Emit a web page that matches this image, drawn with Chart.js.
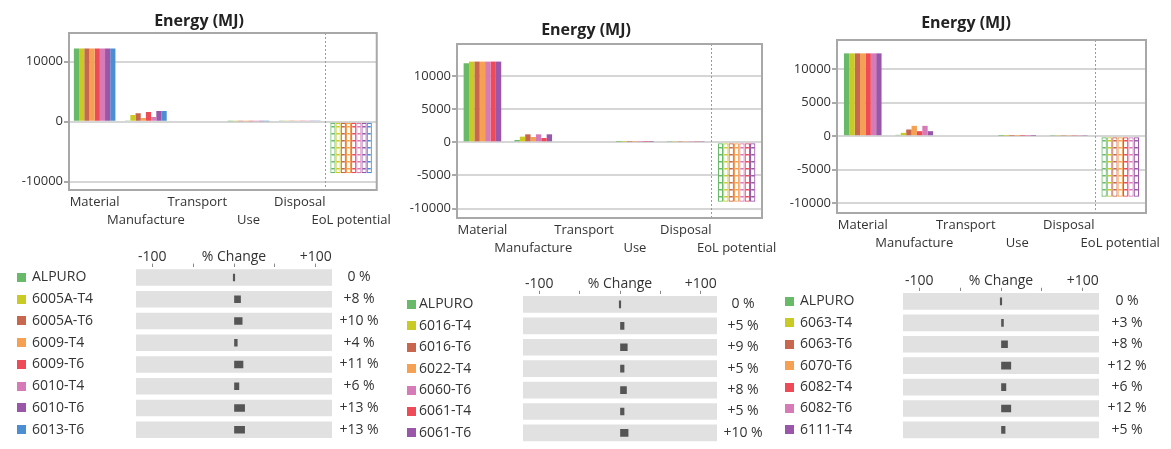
<!DOCTYPE html>
<html><head><meta charset="utf-8">
<script src="https://cdn.jsdelivr.net/npm/chart.js@4.4.1/dist/chart.umd.min.js"></script>
<style>
html,body{margin:0;padding:0;overflow:hidden;background:#fff;width:1171px;height:449px;}
.c{position:absolute;}
</style></head>
<body>
<div class="c" style="left:0px;top:0px;width:395px;height:235px"><canvas id="e1"></canvas></div>
<div class="c" style="left:395px;top:0px;width:390px;height:262px"><canvas id="e2"></canvas></div>
<div class="c" style="left:780px;top:0px;width:391px;height:256px"><canvas id="e3"></canvas></div>
<div class="c" style="left:0px;top:235px;width:395px;height:214px"><canvas id="p1"></canvas></div>
<div class="c" style="left:395px;top:262px;width:390px;height:190px"><canvas id="p2"></canvas></div>
<div class="c" style="left:780px;top:259px;width:391px;height:190px"><canvas id="p3"></canvas></div>
<script>
// ---------- DATA ----------
const categories = ['Material','Manufacture','Transport','Use','Disposal','EoL potential'];
const hatchedCategory = 'EoL potential';

// y-axis tick values
const energyTicks1 = [-10000, 0, 10000];
const energyTicks23 = [-10000, -5000, 0, 5000, 10000];

// Panel 1
const series1 = ['ALPURO','6005A-T4','6005A-T6','6009-T4','6009-T6','6010-T4','6010-T6','6013-T6'];
const material1    = [12200,12200,12200,12200,12200,12200,12200,12200];
const manufacture1 = [200,1100,1400,600,1600,800,1800,1800];
const transport1   = [150,150,150,150,150,150,150,150];
const use1         = [60,60,60,60,60,60,60,60];
const disposal1    = [100,100,100,100,100,100,100,100];
const eol1         = [-8600,-8600,-8600,-8600,-8600,-8600,-8600,-8600];
const change1      = [0,8,10,4,11,6,13,13];

// Panel 2
const series2 = ['ALPURO','6016-T4','6016-T6','6022-T4','6060-T6','6061-T4','6061-T6'];
const material2    = [11900,12150,12150,12150,12150,12150,12150];
const manufacture2 = [350,850,1200,800,1200,650,1200];
const transport2   = [150,150,150,150,150,150,150];
const use2         = [60,60,60,60,60,60,60];
const disposal2    = [100,100,100,100,100,100,100];
const eol2         = [-8950,-8950,-8950,-8950,-8950,-8950,-8950];
const change2      = [0,5,9,5,8,5,10];

// Panel 3
const series3 = ['ALPURO','6063-T4','6063-T6','6070-T6','6082-T4','6082-T6','6111-T4'];
const material3    = [12400,12400,12400,12400,12400,12400,12400];
const manufacture3 = [200,500,1000,1550,750,1550,750];
const transport3   = [150,150,150,150,150,150,150];
const use3         = [60,60,60,60,60,60,60];
const disposal3    = [100,100,100,100,100,100,100];
const eol3         = [-9050,-9050,-9050,-9050,-9050,-9050,-9050];
const change3      = [0,3,8,12,6,12,5];

// percent-change axis ticks
const pctTicks = [-100,-50,0,50,100];
const pctTrack = [-120,120];

// ---------- STYLES ----------
const GREEN='#68b968', YEL='#c9cb24', BROWN='#c8664e', ORANGE='#f5a052', RED='#ee4a57', PINK='#d77ab8', PURPLE='#9a56a8', BLUE='#4b8fd2';
const colors1 = [GREEN,YEL,BROWN,ORANGE,RED,PINK,PURPLE,BLUE];
const colors2 = [GREEN,YEL,BROWN,ORANGE,PINK,RED,PURPLE];
const colors3 = [GREEN,YEL,BROWN,ORANGE,RED,PINK,PURPLE];

Chart.defaults.font.family = "'Open Sans', 'Noto Sans', sans-serif";
Chart.defaults.color = '#333';
Chart.defaults.animation = false;

function hatch(color){
  const c = document.createElement('canvas'); c.width = 4; c.height = 7;
  const g = c.getContext('2d');
  g.fillStyle = '#fff'; g.fillRect(0,0,4,7);
  g.fillStyle = color; g.fillRect(0,0,4,1.5);
  return g.createPattern(c,'repeat');
}

const energyDecor = {
  id:'energyDecor',
  afterDraw(chart, args, o){
    const ctx = chart.ctx, a = chart.chartArea, x = chart.scales.x;
    ctx.save();
    const k = categories.indexOf(hatchedCategory);
    const sx = Math.round((x.getPixelForValue(k-1) + x.getPixelForValue(k))/2) + 0.5;
    ctx.strokeStyle = '#9a9a9a'; ctx.lineWidth = 1; ctx.setLineDash([2,2]);
    ctx.beginPath(); ctx.moveTo(sx, a.top); ctx.lineTo(sx, a.bottom); ctx.stroke();
    ctx.setLineDash([]);
    ctx.strokeStyle = '#a8a8a8'; ctx.lineWidth = 2;
    ctx.strokeRect(a.left, a.top, a.right - a.left, a.bottom - a.top);
    ctx.fillStyle = '#222'; ctx.font = "bold 16px 'Open Sans', sans-serif";
    ctx.textAlign = 'center'; ctx.textBaseline = 'middle';
    ctx.fillText(o.title, o.tx, o.ty);
    ctx.restore();
  }
};

function makeEnergy(id, series, colors, cols, yTicks, L){
  const datasets = series.map((name,i)=>({
    label: name,
    data: cols.map(col=>col[i]),
    backgroundColor: categories.map(c=> c===hatchedCategory ? hatch(colors[i]) : colors[i]),
    borderColor: colors[i],
    borderWidth: categories.map(c=> c===hatchedCategory ? 1.2 : 0),
    borderSkipped: false
  }));
  new Chart(document.getElementById(id), {
    type:'bar',
    data:{labels: categories, datasets},
    options:{
      responsive:true, maintainAspectRatio:false,
      layout:{padding:{left:0, right:L.W - L.R, top:L.T, bottom:0}},
      datasets:{bar:{categoryPercentage:L.cp, barPercentage:1}},
      plugins:{legend:{display:false}, tooltip:{enabled:false},
        energyDecor:{title:'Energy (MJ)', tx:L.tx, ty:L.ty}},
      scales:{
        x:{
          ticks:{autoSkip:false, maxRotation:0, minRotation:0, padding:3, color:'#333',
            font:{size:13, lineHeight:1.385},
            callback:(v,i)=> i%2 ? ['', categories[i]] : categories[i]},
          grid:{display:false, drawTicks:false}, border:{display:false},
          afterFit:s=>{ s.height = L.H - L.B; }
        },
        y:{
          min:L.min, max:L.max,
          afterBuildTicks:s=>{ s.ticks = yTicks.map(v=>({value:v})); },
          ticks:{padding:1, color:'#333', font:{size:13}, callback:v=>String(v)},
          grid:{color:'#d6d6d6', lineWidth:2, tickColor:'#555', tickLength:5, tickWidth:1},
          border:{display:false},
          afterFit:s=>{ s.width = L.L; }
        }
      }
    },
    plugins:[energyDecor]
  });
}

const pctDecor = {
  id:'pctDecor',
  afterDraw(chart, args, o){
    const ctx = chart.ctx, y = chart.scales.y;
    ctx.save();
    o.colors.forEach((c,i)=>{
      const py = y.getPixelForValue(i);
      ctx.fillStyle = c; ctx.fillRect(o.sqX, Math.round(py-4.5), 9, 9);
    });
    ctx.fillStyle = '#333'; ctx.font = "14px 'Open Sans', sans-serif";
    ctx.textAlign = 'center'; ctx.textBaseline = 'middle';
    o.values.forEach((v,i)=>{
      ctx.fillText((v>0?'+':'') + v + ' %', o.valX, y.getPixelForValue(i));
    });
    ctx.restore();
  }
};

function makePct(id, series, colors, changes, L){
  new Chart(document.getElementById(id), {
    type:'bar',
    data:{labels: series, datasets:[
      {data: series.map(()=>pctTrack.slice()), backgroundColor:'#e1e1e1', barThickness:16, grouped:false, order:2},
      {data: changes.map(v=>[0,v]), backgroundColor:'#555', barThickness:7, minBarLength:1.5, grouped:false, order:1}
    ]},
    options:{
      indexAxis:'y', responsive:true, maintainAspectRatio:false,
      layout:{padding:{left:L.left, right:L.W - L.R, top:0, bottom:L.pb}},
      plugins:{legend:{display:false}, tooltip:{enabled:false},
        pctDecor:{colors, values:changes, sqX:L.sqX, valX:L.valX}},
      scales:{
        x:{
          position:'top', min:pctTrack[0], max:pctTrack[1],
          afterBuildTicks:s=>{ s.ticks = pctTicks.map(v=>({value:v})); },
          ticks:{padding:0, autoSkip:false, maxRotation:0, minRotation:0, color:'#333', font:{size:14, lineHeight:1},
            callback:v=> v===0 ? '% Change' : (v===-100 ? '-100' : (v===100 ? '+100' : ''))},
          grid:{drawOnChartArea:false, drawTicks:true, tickLength:3, tickColor:'#888', tickWidth:1},
          border:{display:false},
          afterFit:s=>{ s.height = L.T; }
        },
        y:{
          ticks:{crossAlign:'far', padding:0, color:'#333', font:{size:14}},
          grid:{display:false}, border:{display:false},
          afterFit:s=>{ s.width = L.TL - L.left; }
        }
      }
    },
    plugins:[pctDecor]
  });
}

makeEnergy('e1', series1, colors1, [material1,manufacture1,transport1,use1,disposal1,eol1], energyTicks1,
  {W:395, H:235, L:69, R:380, T:33, B:190, cp:0.81, min:-11400, max:14800, tx:199, ty:21});
makeEnergy('e2', series2, colors2, [material2,manufacture2,transport2,use2,disposal2,eol2], energyTicks23,
  {W:390, H:262, L:62, R:367, T:44, B:218, cp:0.74, min:-11400, max:14800, tx:191, ty:30});
makeEnergy('e3', series3, colors3, [material3,manufacture3,transport3,use3,disposal3,eol3], energyTicks23,
  {W:391, H:256, L:57, R:366, T:40, B:213, cp:0.73, min:-11500, max:14400, tx:186, ty:23});

makePct('p1', series1, colors1, change1, {W:395, left:32, TL:136, R:332, T:31.6, pb:0.8, sqX:17, valX:359});
makePct('p2', series2, colors2, change2, {W:390, left:24, TL:128, R:322, T:31.75, pb:0.75, sqX:12, valX:348});
makePct('p3', series3, colors3, change3, {W:391, left:20, TL:123, R:319, T:31.75, pb:0.75, sqX:5, valX:347});
</script>
</body></html>
